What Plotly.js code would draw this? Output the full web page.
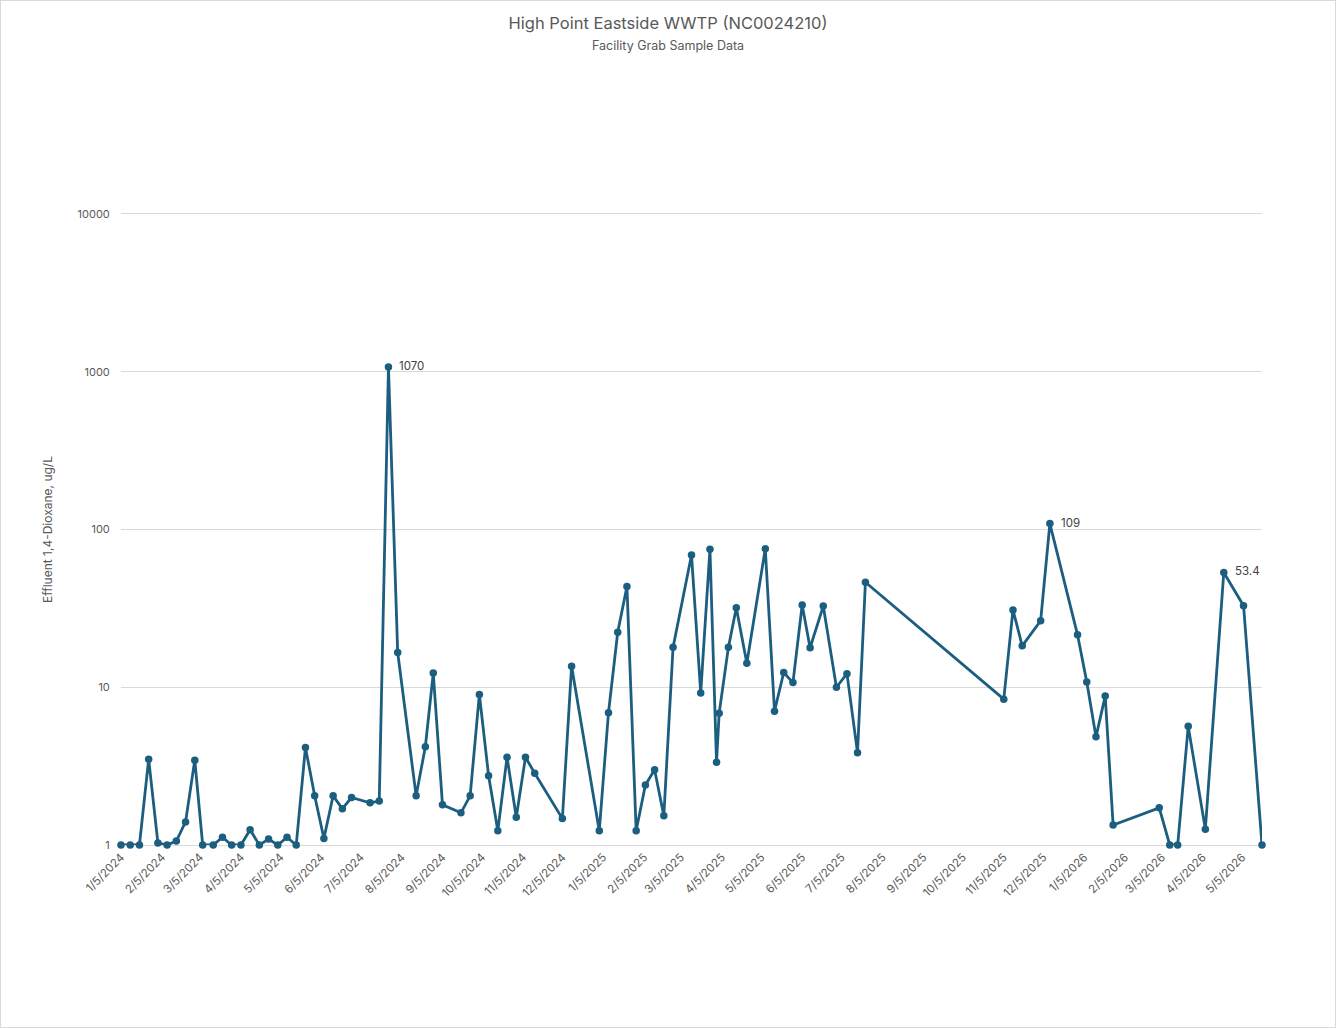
<!DOCTYPE html>
<html>
<head>
<meta charset="utf-8">
<script src="https://cdn.plot.ly/plotly-3.0.1.min.js"></script>
<style>
html,body{margin:0;padding:0;background:#fff;}
#chart{width:1336px;height:1028px;box-sizing:border-box;border:1px solid #d9d9d9;}
</style>
</head>
<body>
<div id="chart"></div>
<script>
// Sample dates (facility grab samples)
const sampleDates = [
 "2024-01-05","2024-01-12","2024-01-19","2024-01-26","2024-02-02","2024-02-09","2024-02-16","2024-02-23",
 "2024-03-01","2024-03-07","2024-03-15","2024-03-22","2024-03-29","2024-04-05","2024-04-12","2024-04-19",
 "2024-04-26","2024-05-03","2024-05-10","2024-05-17","2024-05-24","2024-05-31","2024-06-07","2024-06-14",
 "2024-06-21","2024-06-28","2024-07-12","2024-07-19","2024-07-26","2024-08-02","2024-08-16","2024-08-23",
 "2024-08-29","2024-09-05","2024-09-19","2024-09-26","2024-10-03","2024-10-10","2024-10-17","2024-10-24",
 "2024-10-31","2024-11-07","2024-11-14","2024-12-05","2024-12-12","2025-01-02","2025-01-09","2025-01-16",
 "2025-01-23","2025-01-30","2025-02-06","2025-02-13","2025-02-20","2025-02-27","2025-03-13","2025-03-20",
 "2025-03-27","2025-04-01","2025-04-03","2025-04-10","2025-04-16","2025-04-24","2025-05-08","2025-05-15",
 "2025-05-22","2025-05-29","2025-06-05","2025-06-11","2025-06-21","2025-07-01","2025-07-09","2025-07-17",
 "2025-07-23","2025-11-05","2025-11-12","2025-11-19","2025-12-03","2025-12-10","2025-12-31","2026-01-07",
 "2026-01-14","2026-01-21","2026-01-27","2026-03-03","2026-03-11","2026-03-17","2026-03-25","2026-04-07",
 "2026-04-21","2026-05-06","2026-05-20"
];
// Effluent 1,4-Dioxane, ug/L
const dioxane = [
 1,1,1,3.5,1.03,1,1.06,1.4,
 3.45,1,1,1.12,1,1,1.25,1,
 1.09,1,1.12,1,4.15,2.05,1.1,2.05,
 1.7,2.0,1.85,1.9,1070,16.6,2.05,4.2,
 12.3,1.8,1.6,2.05,9.0,2.75,1.23,3.6,
 1.5,3.6,2.85,1.47,13.6,1.23,6.9,22.3,
 43.5,1.23,2.4,3.0,1.53,17.9,69,9.2,
 75,3.35,6.85,17.9,31.9,14.2,75.5,7.05,
 12.4,10.7,33.2,17.8,32.7,10.0,12.2,3.85,
 46.3,8.4,30.9,18.3,26.4,109,21.5,10.8,
 4.85,8.8,1.34,1.72,1,1,5.65,1.26,
 53.4,32.9,1
];
// Data labels shown on the chart
const labelledDates = ["2024-07-26","2025-12-10","2026-04-21"];
const labelledText = ["1070","109","53.4"];

// Axis ticks
const xTickVals = [
 "2024-01-05","2024-02-05","2024-03-05","2024-04-05","2024-05-05","2024-06-05","2024-07-05","2024-08-05",
 "2024-09-05","2024-10-05","2024-11-05","2024-12-05","2025-01-05","2025-02-05","2025-03-05","2025-04-05",
 "2025-05-05","2025-06-05","2025-07-05","2025-08-05","2025-09-05","2025-10-05","2025-11-05","2025-12-05",
 "2026-01-05","2026-02-05","2026-03-05","2026-04-05","2026-05-05"
];
const xTickText = [
 "1/5/2024","2/5/2024","3/5/2024","4/5/2024","5/5/2024","6/5/2024","7/5/2024","8/5/2024",
 "9/5/2024","10/5/2024","11/5/2024","12/5/2024","1/5/2025","2/5/2025","3/5/2025","4/5/2025",
 "5/5/2025","6/5/2025","7/5/2025","8/5/2025","9/5/2025","10/5/2025","11/5/2025","12/5/2025",
 "1/5/2026","2/5/2026","3/5/2026","4/5/2026","5/5/2026"
];
const yTickVals = [1,10,100,1000,10000];
const yTickText = ["1","10","100","1000","10000"];

const FONT = "Inter, 'Noto Sans', sans-serif";
const GREY = "#595959";
const LINE = "#1b5e80";

const trace = {
  type: "scatter",
  mode: "lines+markers",
  x: sampleDates,
  y: dioxane,
  line: {color: LINE, width: 2.8},
  marker: {color: LINE, size: 7.5},
  cliponaxis: false,
  hoverinfo: "x+y"
};

const labelAnnotations = labelledDates.map((d, i) => ({
  x: d,
  y: Math.log10(dioxane[sampleDates.indexOf(d)]),
  xref: "x", yref: "y",
  text: labelledText[i],
  showarrow: false,
  xanchor: "left", yanchor: "middle",
  xshift: 9, yshift: 1,
  font: {family: FONT, size: 11.5, color: "#404040"}
}));

const layout = {
  width: 1334, height: 1026,
  paper_bgcolor: "#ffffff",
  plot_bgcolor: "#ffffff",
  font: {family: FONT, color: GREY},
  margin: {l: 120, r: 73, t: 213, b: 182, pad: 0},
  showlegend: false,
  title: {
    text: "High Point Eastside WWTP (NC0024210)",
    font: {family: FONT, size: 16.5, color: GREY},
    x: 0.5, xanchor: "center",
    xref: "container",
    yref: "container",
    y: 1 - 22/1026, yanchor: "middle"
  },
  annotations: [
    {
      text: "Facility Grab Sample Data",
      xref: "paper", yref: "paper",
      x: 0.5 - (120 - 73) / 2 / 1141, xanchor: "center",
      y: 1 + (213 - 44) / 631, yanchor: "middle",
      showarrow: false,
      font: {family: FONT, size: 12.5, color: GREY}
    }
  ].concat(labelAnnotations),
  xaxis: {
    type: "date",
    range: ["2024-01-05", "2026-05-20"],
    tickmode: "array",
    tickvals: xTickVals,
    ticktext: xTickText,
    tickangle: -45,
    tickfont: {family: FONT, size: 11.5, color: GREY},
    showgrid: false,
    zeroline: false,
    showline: true,
    mirror: true,
    linecolor: "#d9d9d9",
    linewidth: 1,
    layer: "below traces",
    ticks: "",
    ticklen: 0
  },
  yaxis: {
    type: "log",
    range: [0, 4],
    tickmode: "array",
    tickvals: yTickVals,
    ticktext: yTickText,
    tickfont: {family: FONT, size: 11, color: GREY},
    showgrid: true,
    gridcolor: "#d9d9d9",
    gridwidth: 1,
    zeroline: false,
    showline: false,
    layer: "below traces",
    ticks: "outside",
    ticklen: 8,
    tickcolor: "rgba(0,0,0,0)",
    title: {
      text: "Effluent 1,4-Dioxane, ug/L",
      font: {family: FONT, size: 12, color: GREY},
      standoff: 22
    }
  }
};

Plotly.newPlot("chart", [trace], layout, {displayModeBar: false, responsive: false});
</script>
</body>
</html>
